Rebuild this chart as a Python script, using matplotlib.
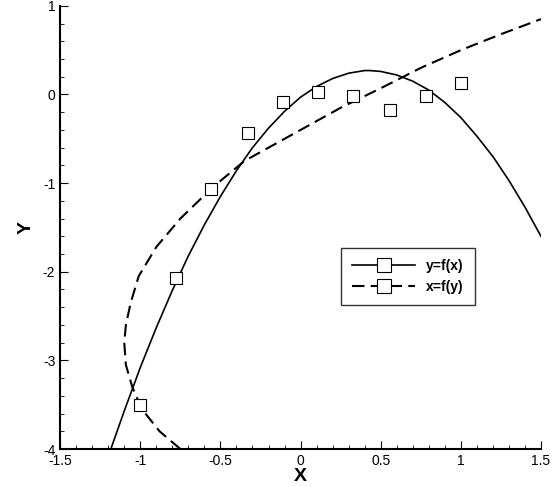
import matplotlib
matplotlib.use("Agg")
import matplotlib.pyplot as plt

pts_x = [-1.0, -0.78, -0.56, -0.33, -0.11, 0.11, 0.33, 0.56, 0.78, 1.0]
pts_y = [-3.5, -2.07, -1.07, -0.43, -0.08, 0.03, -0.02, -0.17, -0.02, 0.13]

yfx_x = [-1.18, -1.1, -1.0, -0.9, -0.8, -0.7, -0.6, -0.5, -0.4, -0.3, -0.2, -0.1, 0.0, 0.1, 0.2, 0.3, 0.4, 0.43,
         0.5, 0.6, 0.7, 0.8, 0.9, 1.0, 1.1, 1.2, 1.3, 1.4, 1.5]
yfx_y = [-3.98, -3.57, -3.08, -2.63, -2.21, -1.82, -1.47, -1.15, -0.86, -0.60, -0.38, -0.19, -0.03, 0.09, 0.18, 0.24, 0.27, 0.27,
         0.26, 0.22, 0.15, 0.05, -0.09, -0.26, -0.47, -0.70, -0.97, -1.27, -1.60]

xfy_x = [-0.75, -0.88, -0.99, -1.05, -1.09, -1.1, -1.09, -1.06, -1.01, -0.9, -0.75, -0.55, -0.35, -0.1, 0.0, 0.25, 0.5, 0.75, 1.0, 1.25, 1.5]
xfy_y = [-4.0, -3.8, -3.55, -3.3, -3.05, -2.8, -2.6, -2.35, -2.05, -1.72, -1.4, -1.05, -0.75, -0.5, -0.4, -0.15, 0.07, 0.3, 0.5, 0.68, 0.85]

plt.rcParams['font.family'] = ['Liberation Sans', 'DejaVu Sans']
plt.rcParams['axes.unicode_minus'] = False
fig = plt.figure(figsize=(5.52, 4.87), dpi=100)
ax = fig.add_axes([0.109, 0.078, 0.871, 0.91])
ax.plot(yfx_x, yfx_y, color='black', lw=1.2)
ax.plot(xfy_x, xfy_y, color='black', lw=1.5, ls=(0, (6, 3)))
ax.plot(pts_x, pts_y, ls='none', marker='s', ms=9, mfc='white', mec='black', mew=0.8)
h1, = ax.plot([], [], color='black', lw=1.2, marker='s', ms=10, mfc='white', mec='black', mew=0.8)
h2, = ax.plot([], [], color='black', lw=1.5, ls=(0, (6, 3)), marker='s', ms=10, mfc='white', mec='black', mew=0.8)
leg = ax.legend([h1, h2], ['y=f(x)', 'x=f(y)'], loc='upper left', bbox_to_anchor=(0.57, 0.47),
                frameon=True, fancybox=False, edgecolor='black', prop={'weight': 'bold', 'size': 10},
                handlelength=4.5, borderpad=0.8)
leg.get_frame().set_linewidth(1.0)
ax.set_xlim(-1.5, 1.5)
ax.set_ylim(-4, 1)
ax.set_xticks([-1.5, -1, -0.5, 0, 0.5, 1, 1.5])
ax.set_xticklabels(['-1.5', '-1', '-0.5', '0', '0.5', '1', '1.5'])
ax.set_yticks([-4, -3, -2, -1, 0, 1])
ax.set_xticks([x / 10 for x in range(-15, 16)], minor=True)
ax.set_yticks([y / 5 for y in range(-20, 6)], minor=True)
ax.tick_params(direction='in', which='both', labelsize=10)
ax.tick_params(which='major', length=6)
ax.tick_params(which='minor', length=3)
ax.spines['top'].set_visible(False)
ax.spines['right'].set_visible(False)
ax.spines['left'].set_linewidth(1.5)
ax.spines['bottom'].set_linewidth(1.5)
ax.set_xlabel('X', fontsize=14, fontweight='bold', labelpad=0)
ax.set_ylabel('Y', fontsize=14, fontweight='bold', labelpad=6)
fig.savefig('out.png', dpi=100)
